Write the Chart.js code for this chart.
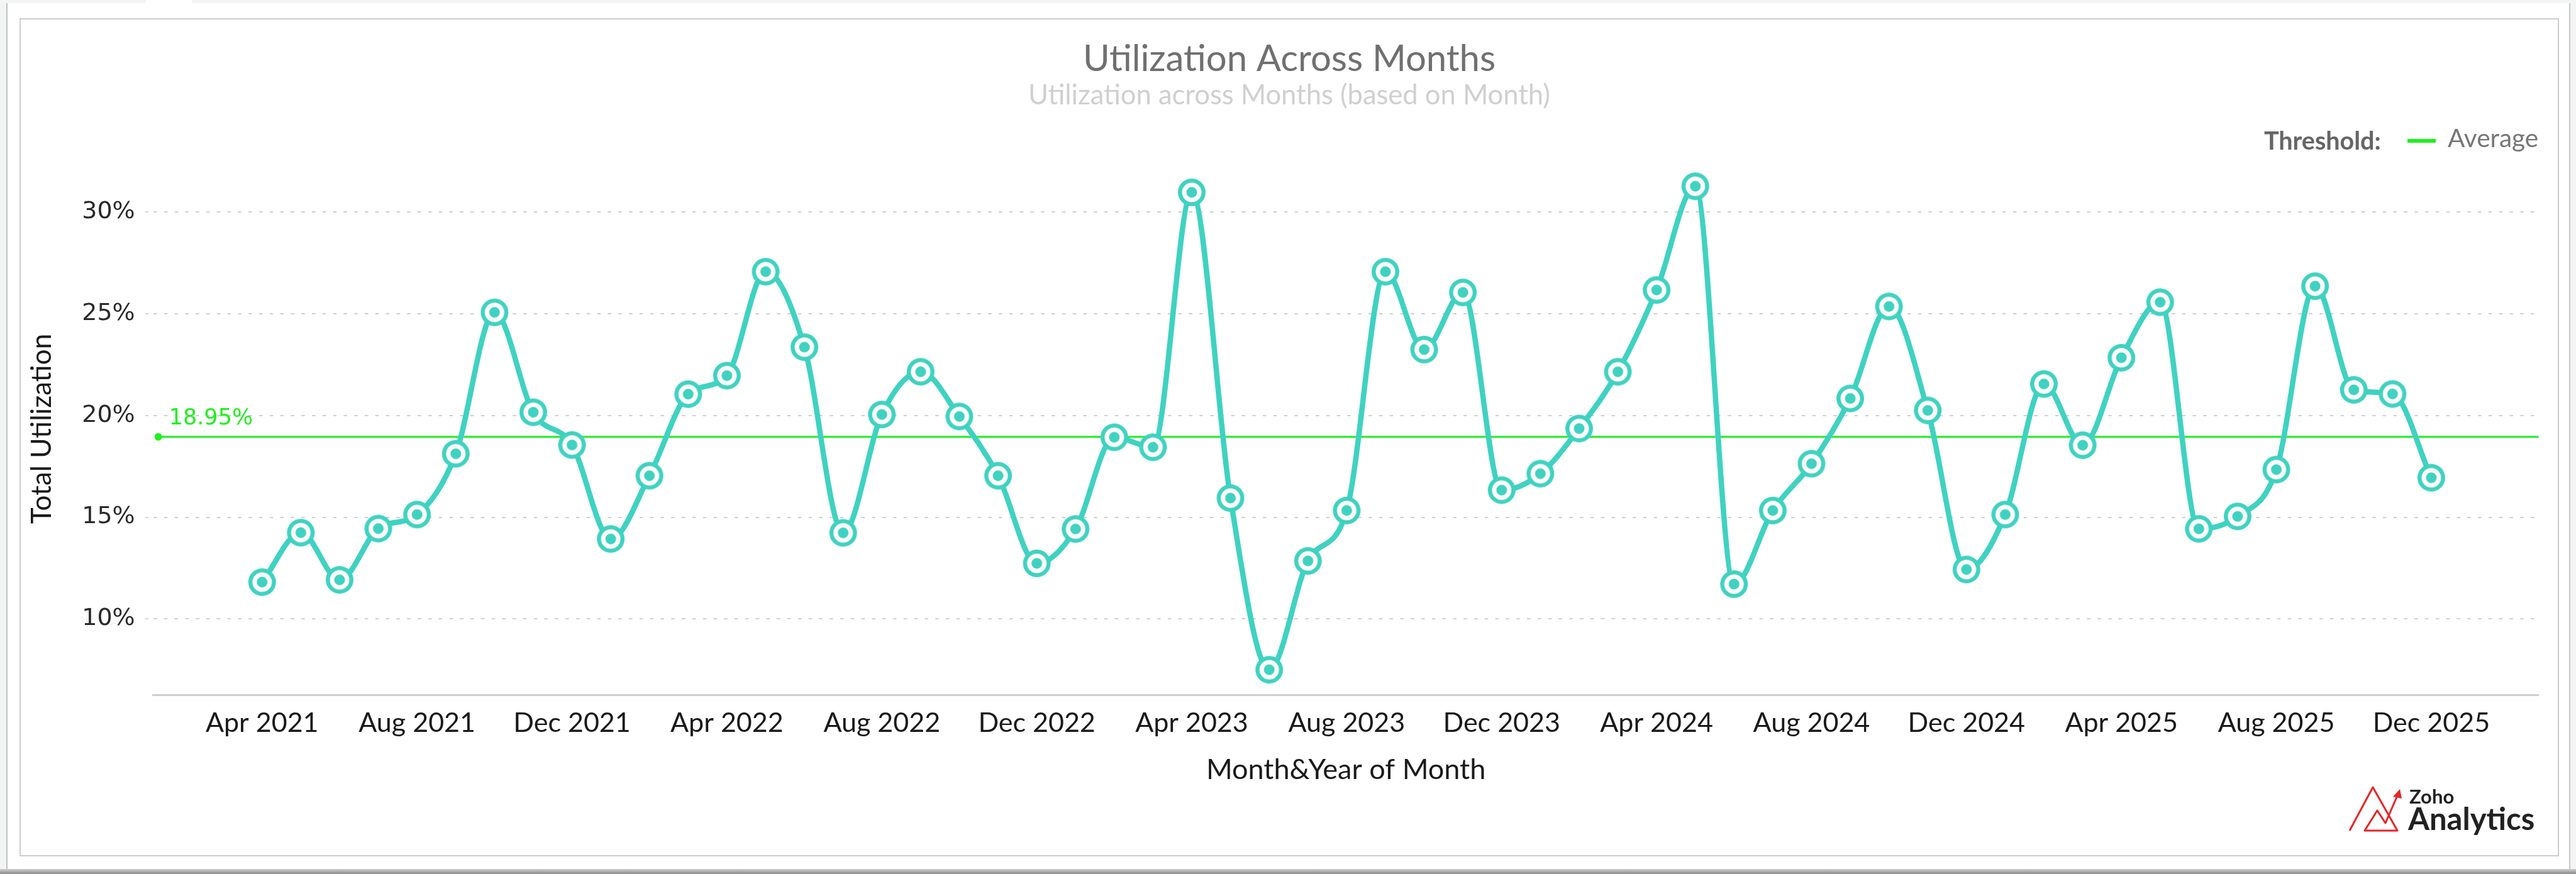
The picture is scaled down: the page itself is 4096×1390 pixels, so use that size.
<!DOCTYPE html>
<html>
<head>
<meta charset="utf-8">
<title>Utilization Across Months</title>
<script src="https://cdn.jsdelivr.net/npm/chart.js@4.4.1/dist/chart.umd.min.js"></script>
<style>
  html, body { margin: 0; padding: 0; }
  body { width: 4096px; height: 1390px; background: #f3f4f4; position: relative; overflow: hidden; }
  .tab { position: absolute; left: 232px; top: 0; width: 73px; height: 5px; background: #fff; }
  .win { position: absolute; left: 10px; top: 5px; width: 4073px; height: 1377px; background: #fff;
         border-left: 2px solid #c2c2c2; border-right: 2px solid #c6c6c6; }
  .shade { position: absolute; left: 0; top: 1382px; width: 4096px; height: 8px; background: linear-gradient(#d0d0d0, #8a8a8a); }
  .box { position: absolute; left: 31px; top: 29px; width: 4034px; height: 1329px; border: 2px solid #cdcdcd; background: #fff; }
  canvas { display: block; }
</style>
</head>
<body>
<div class="tab"></div>
<div class="win"></div>
<div class="shade"></div>
<div class="box"><canvas id="utilChart" width="4034" height="1329"></canvas></div>
<script>
// 데이터
const months = [
    'Apr 2021', 'May 2021', 'Jun 2021', 'Jul 2021', 'Aug 2021', 'Sep 2021', 'Oct 2021', 'Nov 2021', 'Dec 2021',
    'Jan 2022', 'Feb 2022', 'Mar 2022', 'Apr 2022', 'May 2022', 'Jun 2022', 'Jul 2022', 'Aug 2022', 'Sep 2022', 'Oct 2022', 'Nov 2022', 'Dec 2022',
    'Jan 2023', 'Feb 2023', 'Mar 2023', 'Apr 2023', 'May 2023', 'Jun 2023', 'Jul 2023', 'Aug 2023', 'Sep 2023', 'Oct 2023', 'Nov 2023', 'Dec 2023',
    'Jan 2024', 'Feb 2024', 'Mar 2024', 'Apr 2024', 'May 2024', 'Jun 2024', 'Jul 2024', 'Aug 2024', 'Sep 2024', 'Oct 2024', 'Nov 2024', 'Dec 2024',
    'Jan 2025', 'Feb 2025', 'Mar 2025', 'Apr 2025', 'May 2025', 'Jun 2025', 'Jul 2025', 'Aug 2025', 'Sep 2025', 'Oct 2025', 'Nov 2025', 'Dec 2025'
];
const utilization = [
    11.81, 14.24, 11.92, 14.44, 15.13, 18.12, 25.07, 20.16, 18.55,
    13.93, 17.04, 21.05, 21.96, 27.07, 23.36, 14.23, 20.05, 22.15, 19.95, 17.04, 12.73,
    14.42, 18.93, 18.44, 30.97, 15.94, 7.50, 12.85, 15.33, 27.07, 23.24, 26.05, 16.33,
    17.14, 19.36, 22.15, 26.17, 31.27, 11.71, 15.33, 17.63, 20.84, 25.36, 20.25, 12.43,
    15.13, 21.55, 18.54, 22.84, 25.57, 14.43, 15.04, 17.34, 26.36, 21.26, 21.06, 16.94
];
const tickLabels = [
    'Apr 2021', 'Aug 2021', 'Dec 2021', 'Apr 2022', 'Aug 2022', 'Dec 2022', 'Apr 2023', 'Aug 2023',
    'Dec 2023', 'Apr 2024', 'Aug 2024', 'Dec 2024', 'Apr 2025', 'Aug 2025', 'Dec 2025'
];
const yTicks = [10, 15, 20, 25, 30];
const averageValue = 18.95;

const TEAL = '#3fd2c1';
const GREEN = '#1ff01f';

// 포인트 마커 (바깥 링 + 흰 링 + 가운데 점)
function makeMarker() {
    const c = document.createElement('canvas');
    c.width = 46;
    c.height = 46;
    const g = c.getContext('2d');
    g.fillStyle = TEAL;
    g.beginPath(); g.arc(23, 23, 22, 0, Math.PI * 2); g.fill();
    g.fillStyle = '#fff';
    g.beginPath(); g.arc(23, 23, 15.5, 0, Math.PI * 2); g.fill();
    g.fillStyle = TEAL;
    g.beginPath(); g.arc(23, 23, 8.5, 0, Math.PI * 2); g.fill();
    return c;
}

// 제목, 범례, 평균선, 로고
const decor = {
    id: 'decor',
    beforeDatasetsDraw(chart) {
        const {ctx, chartArea, scales} = chart;
        const py = scales.y.getPixelForValue(averageValue);
        const x0 = chartArea.left + 8;
        ctx.save();
        ctx.strokeStyle = GREEN;
        ctx.lineWidth = 3;
        ctx.beginPath();
        ctx.moveTo(x0, py);
        ctx.lineTo(chartArea.right, py);
        ctx.stroke();
        ctx.fillStyle = GREEN;
        ctx.beginPath();
        ctx.arc(x0, py, 6, 0, Math.PI * 2);
        ctx.fill();
        ctx.font = '35px "DejaVu Sans"';
        ctx.textAlign = 'left';
        ctx.textBaseline = 'alphabetic';
        ctx.fillText(averageValue.toFixed(2) + '%', chartArea.left + 25, py - 20);
        ctx.restore();
    },
    afterDraw(chart) {
        const ctx = chart.ctx;
        const cx = chart.width / 2;
        ctx.save();
        ctx.textAlign = 'center';
        ctx.textBaseline = 'alphabetic';

        ctx.fillStyle = '#707070';
        ctx.font = '58px Lato';
        ctx.fillText('Utilization Across Months', cx, 82);

        ctx.fillStyle = '#d0d0d0';
        ctx.font = '43.5px Lato';
        ctx.fillText('Utilization across Months (based on Month)', cx, 135);

        // 범례
        ctx.textAlign = 'left';
        ctx.fillStyle = '#666';
        ctx.font = 'bold 39.5px Lato';
        ctx.fillText('Threshold:', 3567, 207);
        ctx.fillStyle = GREEN;
        ctx.fillRect(3795, 190, 45, 6);
        ctx.fillStyle = '#777';
        ctx.font = '40.5px Lato';
        ctx.fillText('Average', 3859, 203);

        // Zoho Analytics 로고
        ctx.strokeStyle = '#e42527';
        ctx.fillStyle = '#e42527';
        ctx.lineWidth = 3;
        ctx.lineJoin = 'round';
        ctx.beginPath();
        ctx.moveTo(3703, 1290);
        ctx.lineTo(3740, 1221);
        ctx.lineTo(3779, 1290);
        ctx.lineTo(3727, 1290);
        ctx.lineTo(3747, 1258);
        ctx.lineTo(3760, 1278);
        ctx.lineTo(3780, 1232);
        ctx.stroke();
        ctx.beginPath();
        ctx.moveTo(3783, 1224);
        ctx.lineTo(3772, 1236);
        ctx.lineTo(3786, 1239);
        ctx.closePath();
        ctx.fill();

        ctx.fillStyle = '#222';
        ctx.font = 'bold 31px Lato';
        ctx.fillText('Zoho', 3798, 1247);
        ctx.font = 'bold 49px Lato';
        ctx.fillText('Analytics', 3796, 1289);
        ctx.restore();
    }
};

document.addEventListener('DOMContentLoaded', function() {
    const ctx = document.getElementById('utilChart').getContext('2d');

    new Chart(ctx, {
        type: 'line',
        data: {
            datasets: [{
                label: 'Total Utilization',
                data: utilization.map((v, i) => ({ x: i, y: v })),
                borderColor: TEAL,
                backgroundColor: TEAL,
                borderWidth: 8.5,
                cubicInterpolationMode: 'monotone',
                pointStyle: makeMarker(),
                pointRadius: 22,
                pointHoverRadius: 22,
                clip: false
            }]
        },
        options: {
            responsive: false,
            animation: false,
            devicePixelRatio: 1,
            layout: {
                padding: { top: 227.7, right: 14.5, bottom: 109, left: 0 }
            },
            plugins: {
                legend: { display: false },
                title: { display: false },
                tooltip: { enabled: false }
            },
            scales: {
                x: {
                    type: 'linear',
                    min: -2.81,
                    max: 58.77,
                    afterBuildTicks: function(scale) {
                        scale.ticks = tickLabels.map(l => ({ value: months.indexOf(l) }));
                    },
                    afterFit: function(scale) {
                        scale.height = 145.7;
                    },
                    grid: { display: false, drawTicks: false },
                    border: { display: true, color: '#cfcfcf', width: 3 },
                    ticks: {
                        autoSkip: false,
                        maxRotation: 0,
                        padding: 19,
                        color: '#1a1a1a',
                        font: { family: 'Lato', size: 43 },
                        callback: function(value) {
                            return months[value];
                        }
                    },
                    title: {
                        display: true,
                        text: 'Month&Year of Month',
                        color: '#1a1a1a',
                        font: { family: 'Lato', size: 45 },
                        padding: 0
                    }
                },
                y: {
                    min: 6.26,
                    max: 32.43,
                    afterBuildTicks: function(scale) {
                        scale.ticks = yTicks.map(v => ({ value: v }));
                    },
                    afterFit: function(scale) {
                        scale.width = 210.7;
                    },
                    grid: {
                        color: '#d0d0d0',
                        lineWidth: 2,
                        drawTicks: true,
                        tickLength: 13,
                        tickColor: '#d8d8d8',
                        tickBorderDash: [5.5, 11.3]
                    },
                    border: { display: false, dash: [5.5, 11.3] },
                    ticks: {
                        padding: 16,
                        color: '#2a2a2a',
                        font: { family: 'DejaVu Sans', size: 38 },
                        callback: function(value) {
                            return value + '%';
                        }
                    },
                    title: {
                        display: true,
                        text: 'Total Utilization',
                        color: '#1a1a1a',
                        font: { family: 'Lato', size: 44 },
                        padding: { top: 7.6, bottom: 0 }
                    }
                }
            }
        },
        plugins: [decor]
    });
});
</script>
</body>
</html>
